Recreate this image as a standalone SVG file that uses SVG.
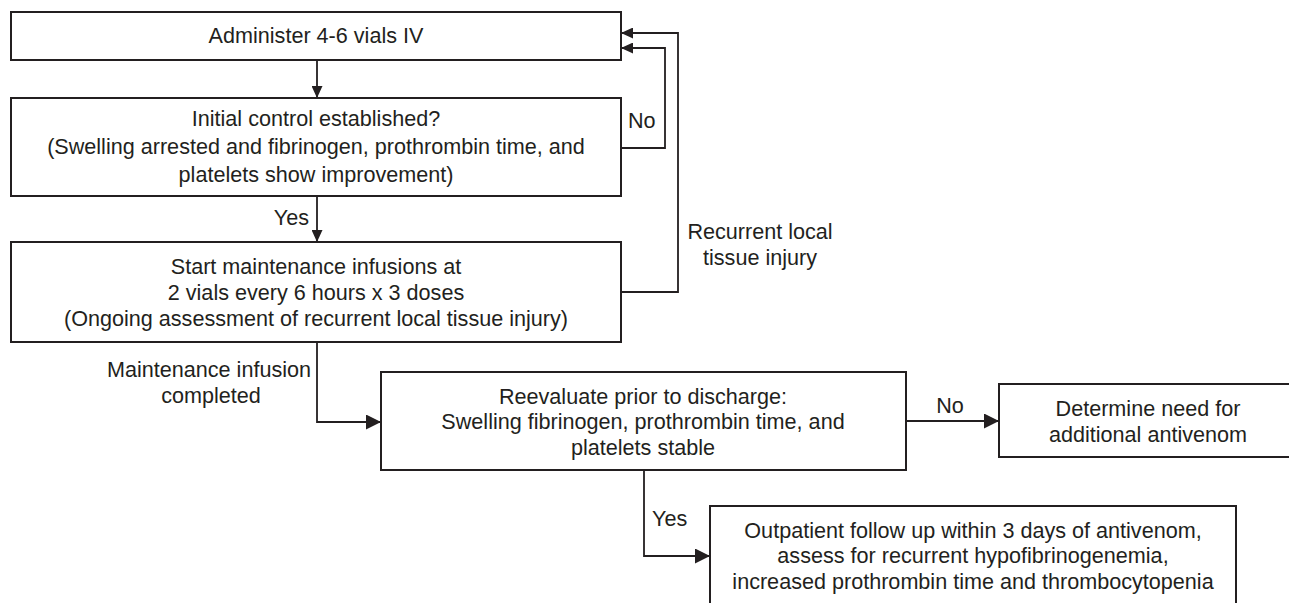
<svg xmlns="http://www.w3.org/2000/svg" width="1289" height="603" viewBox="0 0 1289 603">
<style>
.box{fill:#fff;stroke:#231f20;stroke-width:2}
.ln{fill:none;stroke:#231f20;stroke-width:1.8}
text{font-family:"Liberation Sans",Arial,sans-serif;font-size:21.6px;fill:#231f20}
.c{text-anchor:middle}
.e{text-anchor:end}
</style>
<defs>
<marker id="big" markerUnits="userSpaceOnUse" markerWidth="15" markerHeight="15" refX="15" refY="7.5" orient="auto"><path d="M0,0 L15,7.5 L0,15 z" fill="#231f20"/></marker>
<marker id="small" markerUnits="userSpaceOnUse" markerWidth="12" markerHeight="11" refX="12" refY="5.5" orient="auto"><path d="M0,0 L12,5.5 L0,11 z" fill="#231f20"/></marker>
</defs>
<rect width="1289" height="603" fill="#fff"/>
<g id="connectors">
<path class="ln" d="M317,60 V98" marker-end="url(#small)"/>
<path class="ln" d="M317,196 V242" marker-end="url(#small)"/>
<path class="ln" d="M621,148 H665 V48 H621" marker-end="url(#small)"/>
<path class="ln" d="M621,292 H678 V33 H621" marker-end="url(#small)"/>
<path class="ln" d="M317,342 V422 H381" marker-end="url(#big)"/>
<path class="ln" d="M906,421 H999" marker-end="url(#big)"/>
<path class="ln" d="M644,470 V556 H710" marker-end="url(#big)"/>
<text x="309" y="225" class="e">Yes</text>
<text x="628" y="128">No</text>
<text x="760" y="239" class="c">Recurrent local</text>
<text x="760" y="265" class="c">tissue injury</text>
<text x="209" y="377" class="c">Maintenance infusion</text>
<text x="211" y="403" class="c">completed</text>
<text x="950" y="413" class="c">No</text>
<text x="652" y="526">Yes</text>
</g>
<g id="n1">
<rect class="box" x="11" y="12" width="610" height="48"/>
<text x="316" y="43" class="c">Administer 4-6 vials IV</text>
</g>
<g id="n2">
<rect class="box" x="11" y="98" width="610" height="98"/>
<text x="316" y="126" class="c">Initial control established?</text>
<text x="316" y="154" class="c">(Swelling arrested and fibrinogen, prothrombin time, and</text>
<text x="316" y="182" class="c">platelets show improvement)</text>
</g>
<g id="n3">
<rect class="box" x="11" y="242" width="610" height="100"/>
<text x="316" y="274" class="c">Start maintenance infusions at</text>
<text x="316" y="300" class="c">2 vials every 6 hours x 3 doses</text>
<text x="316" y="326" class="c">(Ongoing assessment of recurrent local tissue injury)</text>
</g>
<g id="n4">
<rect class="box" x="381" y="372" width="525" height="98"/>
<text x="643" y="404" class="c">Reevaluate prior to discharge:</text>
<text x="643" y="429" class="c">Swelling fibrinogen, prothrombin time, and</text>
<text x="643" y="455" class="c">platelets stable</text>
</g>
<g id="n5">
<rect class="box" x="999" y="384" width="302" height="73"/>
<text x="1148" y="416" class="c">Determine need for</text>
<text x="1148" y="442" class="c">additional antivenom</text>
</g>
<g id="n6">
<rect class="box" x="710" y="506" width="526" height="110"/>
<text x="973" y="538" class="c">Outpatient follow up within 3 days of antivenom,</text>
<text x="973" y="563" class="c">assess for recurrent hypofibrinogenemia,</text>
<text x="973" y="589" class="c">increased prothrombin time and thrombocytopenia</text>
</g>
</svg>
